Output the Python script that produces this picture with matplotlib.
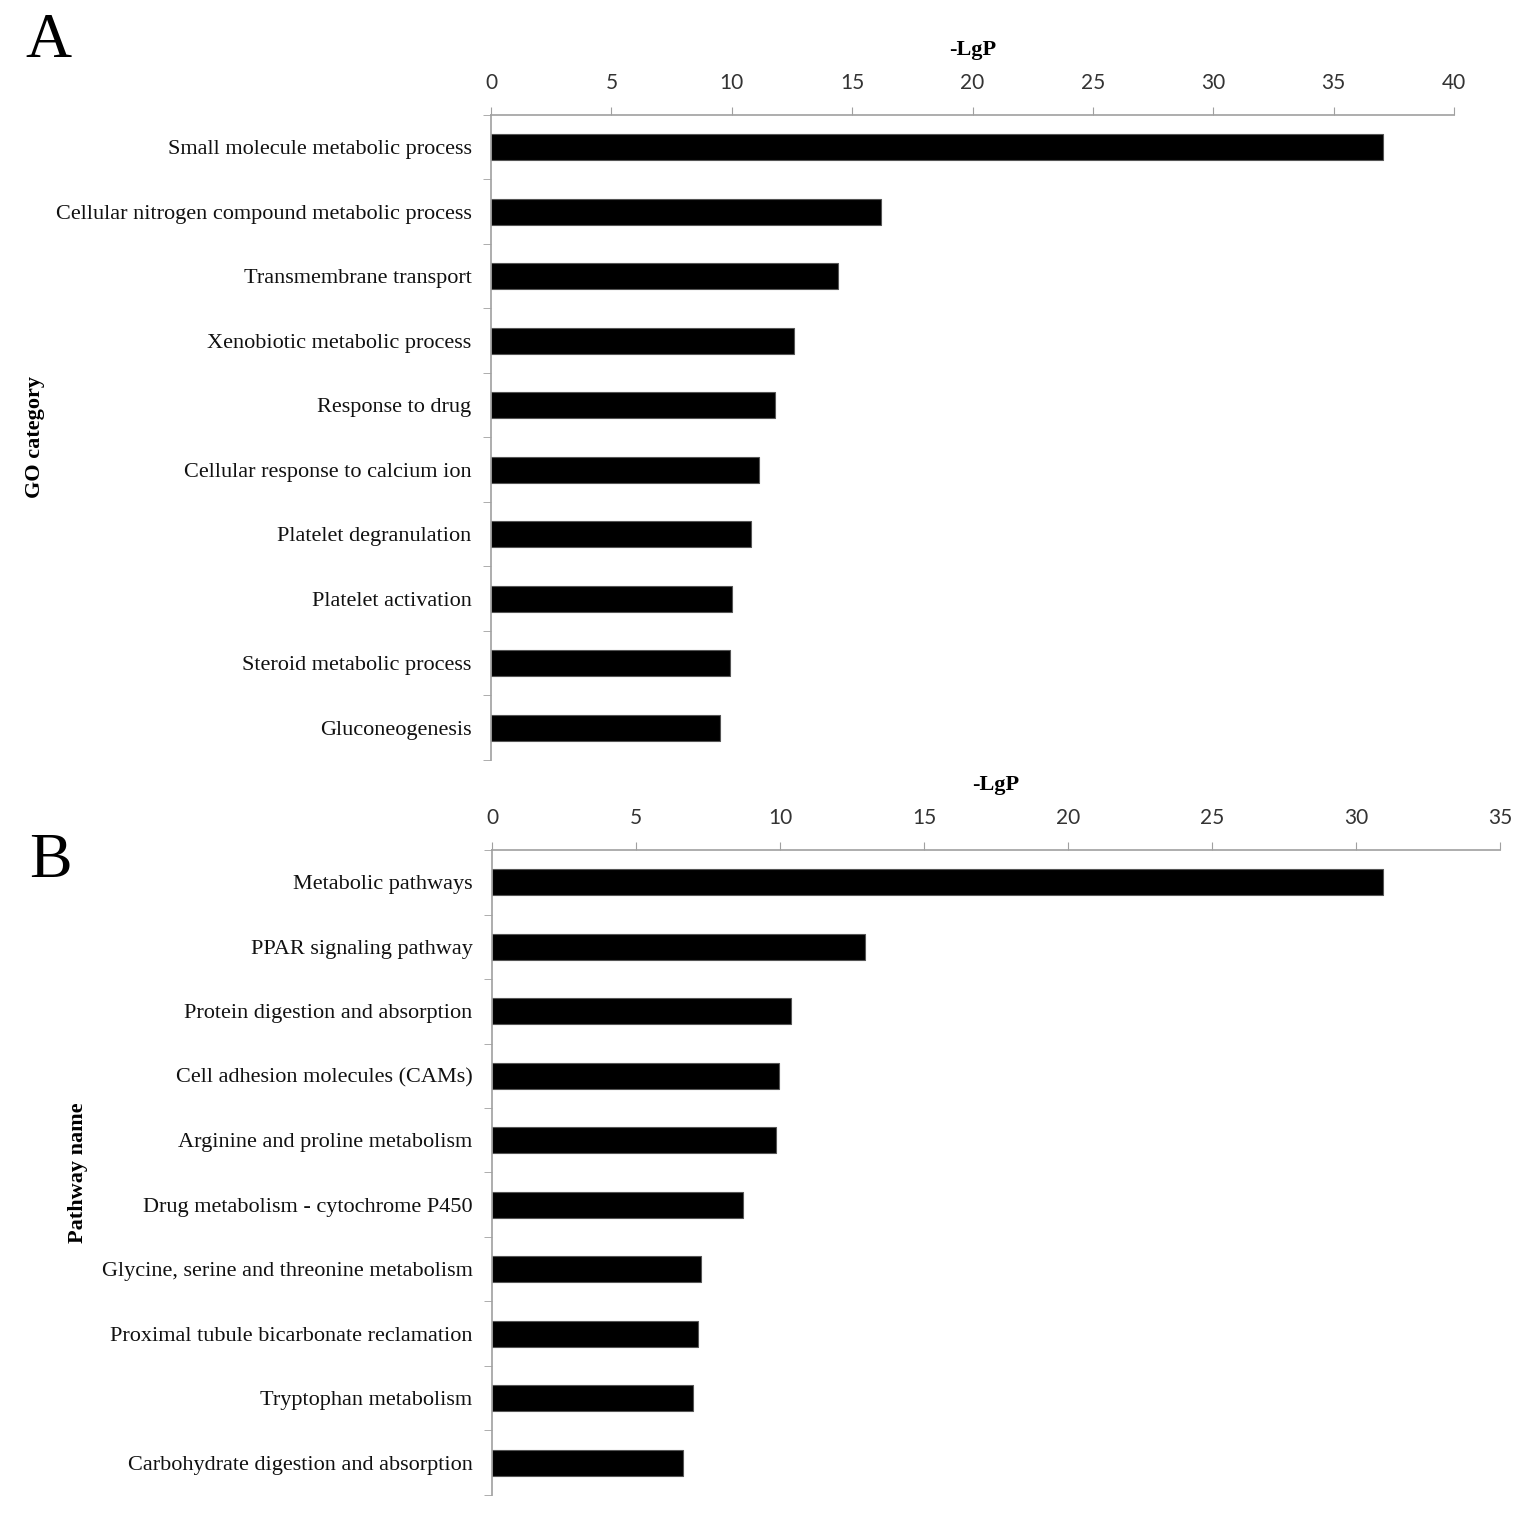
import matplotlib
matplotlib.use("Agg")
import matplotlib.pyplot as plt
from matplotlib.ticker import FixedLocator, NullFormatter

# Panel A: GO categories
go_terms = [
    "Small molecule metabolic process",
    "Cellular nitrogen compound metabolic process",
    "Transmembrane transport",
    "Xenobiotic metabolic process",
    "Response to drug",
    "Cellular response to calcium ion",
    "Platelet degranulation",
    "Platelet activation",
    "Steroid metabolic process",
    "Gluconeogenesis",
]
go_lgp = [37.05, 16.2, 14.4, 12.6, 11.8, 11.15, 10.8, 10.0, 9.93, 9.5]

# Panel B: KEGG pathways
pathways = [
    "Metabolic pathways",
    "PPAR signaling pathway",
    "Protein digestion and absorption",
    "Cell adhesion molecules (CAMs)",
    "Arginine and proline metabolism",
    "Drug metabolism - cytochrome P450",
    "Glycine, serine and threonine metabolism",
    "Proximal tubule bicarbonate reclamation",
    "Tryptophan metabolism",
    "Carbohydrate digestion and absorption",
]
path_lgp = [30.95, 12.95, 10.4, 9.95, 9.85, 8.7, 7.25, 7.15, 6.98, 6.62]

serif = ["Liberation Serif", "DejaVu Serif"]
sans = ["Lato", "DejaVu Sans"]
axcol = "#a0a0a0"


def draw_panel(ax, labels, values, xmax, xstep, ylabel, ylabel_x):
    pos = list(range(len(labels)))
    ax.barh(pos, values, height=0.4, color="black", edgecolor="#555555", linewidth=0.8)
    ax.set_xlim(0, xmax)
    ax.set_ylim(len(labels) - 0.5, -0.5)
    ax.xaxis.tick_top()
    ax.set_xticks(range(0, xmax + 1, xstep))
    ax.set_xticklabels([str(v) for v in range(0, xmax + 1, xstep)],
                       fontfamily=sans, fontsize=15, color="#333333")
    ax.tick_params(axis="x", direction="out", length=6, color=axcol, pad=10)
    ax.set_xlabel("-LgP", fontfamily=serif, fontsize=16, fontweight="bold", labelpad=13)
    ax.xaxis.set_label_position("top")

    ax.set_yticks(pos)
    ax.set_yticklabels(labels, fontfamily=serif, fontsize=16, color="#111111")
    ax.tick_params(axis="y", which="major", length=0, pad=14)
    ax.yaxis.set_minor_locator(FixedLocator([p - 0.5 for p in pos] + [len(labels) - 0.5]))
    ax.yaxis.set_minor_formatter(NullFormatter())
    ax.tick_params(axis="y", which="minor", direction="out", length=6, color=axcol)

    for side in ["right", "bottom"]:
        ax.spines[side].set_visible(False)
    for side in ["left", "top"]:
        ax.spines[side].set_color(axcol)
        ax.spines[side].set_linewidth(1.2)

    fig = ax.figure
    bb = ax.get_position()
    fig.text(ylabel_x, (bb.y0 + bb.y1) / 2, ylabel, rotation=90, ha="center", va="center",
             fontfamily=serif, fontsize=16, fontweight="bold")


fig = plt.figure(figsize=(15.35, 15.13), dpi=100)
ax_a = fig.add_axes([0.3199, 0.4977, 0.6274, 0.4263])
ax_b = fig.add_axes([0.3205, 0.0119, 0.6567, 0.4263])

draw_panel(ax_a, go_terms, go_lgp, 40, 5, "GO category", 35 / 1535)
draw_panel(ax_b, pathways, path_lgp, 35, 5, "Pathway name", 78 / 1535)

fig.text(48 / 1535, 1 - 42 / 1513, "A", fontfamily=serif, fontsize=46, ha="center", va="center")
fig.text(50 / 1535, 1 - 862 / 1513, "B", fontfamily=serif, fontsize=46, ha="center", va="center")

fig.savefig("out.png", dpi=100, facecolor="white")
